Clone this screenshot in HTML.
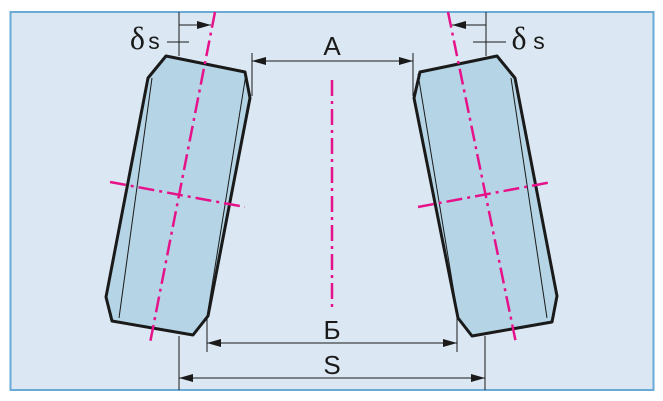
<!DOCTYPE html>
<html><head><meta charset="utf-8"><style>html,body{margin:0;padding:0;background:#fff}svg{display:block}</style></head><body>
<svg width="663" height="401" viewBox="0 0 663 401" xmlns="http://www.w3.org/2000/svg">
<defs>
<marker id="ar" markerWidth="14" markerHeight="8" refX="14" refY="4" orient="auto" markerUnits="userSpaceOnUse"><path d="M0,0 L14,4 L0,8 Z" fill="#1a1a1a"/></marker>
</defs>
<rect x="10.5" y="12" width="643" height="378" fill="#dbe8f3" stroke="#6aaad6" stroke-width="2"/>
<g stroke="#1a1a1a" stroke-width="3" stroke-linejoin="round" fill="#b5d5e6">
<polygon points="166,56 245,72 250,98 208,316 193,335 112,321 106,297 148,78"/>
<polygon points="497,56 420,72 414,98 458,318 472,336 552,322 557,296 515,78"/>
</g>
<g stroke="#1a1a1a" stroke-width="1" fill="none">
<line x1="152" y1="78" x2="119" y2="318"/>
<line x1="246" y1="74" x2="207" y2="317"/>
<line x1="511" y1="78" x2="547" y2="318"/>
<line x1="418" y1="74" x2="458" y2="317"/>
<line x1="179" y1="12" x2="179" y2="56"/>
<line x1="167" y1="42" x2="189" y2="42"/>
<line x1="486" y1="12" x2="486" y2="56"/>
<line x1="473" y1="42" x2="506" y2="42"/>
<line x1="252" y1="53" x2="252" y2="96"/>
<line x1="413" y1="53" x2="413" y2="96"/>
<line x1="207" y1="318" x2="207" y2="352"/>
<line x1="457" y1="318" x2="457" y2="352"/>
<line x1="179" y1="336" x2="179" y2="390"/>
<line x1="485" y1="336" x2="485" y2="390"/>
<line x1="179" y1="25" x2="211" y2="25" marker-end="url(#ar)"/>
<line x1="486" y1="25" x2="452" y2="25" marker-end="url(#ar)"/>
<line x1="332" y1="61" x2="252" y2="61" marker-end="url(#ar)"/>
<line x1="332" y1="61" x2="413" y2="61" marker-end="url(#ar)"/>
<line x1="332" y1="343" x2="207" y2="343" marker-end="url(#ar)"/>
<line x1="332" y1="343" x2="457" y2="343" marker-end="url(#ar)"/>
<line x1="332" y1="378" x2="179" y2="378" marker-end="url(#ar)"/>
<line x1="332" y1="378" x2="485" y2="378" marker-end="url(#ar)"/>
</g>
<g stroke="#e6128a" stroke-width="2.5" stroke-dasharray="16,5,3,5" fill="none">
<line x1="215" y1="12" x2="150" y2="343"/>
<line x1="110" y1="182" x2="245" y2="207"/>
<line x1="448" y1="12" x2="516" y2="343"/>
<line x1="418" y1="207" x2="552" y2="182"/>
<line x1="332" y1="80" x2="332" y2="310"/>
</g>
<g font-family="Liberation Sans, sans-serif" fill="#1a1a1a" text-anchor="middle">
<text x="332" y="55" font-size="26">A</text>
<text x="332" y="339" font-size="26">Б</text>
<text x="332" y="374" font-size="26">S</text>
<text x="145" y="49" font-size="32" font-family="Liberation Serif, serif" text-anchor="end">δ</text>
<text x="154" y="49" font-size="23">s</text>
<text x="519" y="49" font-size="32" font-family="Liberation Serif, serif">δ</text>
<text x="539" y="49" font-size="23">s</text>
</g>
</svg>
</body></html>
